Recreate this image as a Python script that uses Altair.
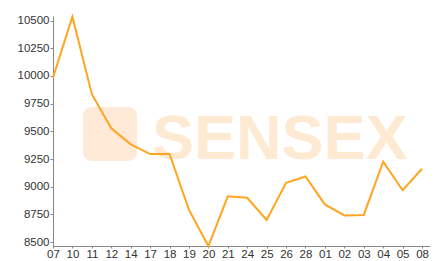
import altair as alt
import pandas as pd

dates = ["07", "10", "11", "12", "14", "17", "18", "19", "20", "21",
         "24", "25", "26", "28", "01", "02", "03", "04", "05", "08"]
values = [9985, 10536, 9836, 9528, 9382, 9295, 9295, 8790, 8464, 8913,
          8900, 8700, 9035, 9092, 8840, 8740, 8745, 9226, 8968, 9162]
y_ticks = [8500, 8750, 9000, 9250, 9500, 9750, 10000, 10250, 10500]

df = pd.DataFrame({"idx": list(range(len(dates))), "date": dates, "value": values})

label_expr = "[" + ",".join("'%s'" % d for d in dates) + "][datum.value]"

one = pd.DataFrame({"k": [0]})

logo_box = alt.Chart(one).mark_rect(color="#feead6", cornerRadius=9).encode(
    x=alt.value(30), x2=alt.value(84), y=alt.value(91), y2=alt.value(145)
)
logo_text = alt.Chart(one).mark_text(
    text="SENSEX", font="Liberation Sans", fontWeight="bold", fontSize=63,
    color="#feead3", align="left", baseline="alphabetic"
).encode(x=alt.value(99), y=alt.value(143))

line = alt.Chart(df).mark_line(color="#ffa51f", strokeWidth=2).encode(
    x=alt.X("idx:Q",
            scale=alt.Scale(domain=[0, 19.41], nice=False, zero=False),
            axis=alt.Axis(title=None, values=list(range(len(dates))),
                          labelExpr=label_expr, grid=False,
                          labelFont="Liberation Sans", labelFontSize=11.5,
                          labelColor="#333", domainColor="#888",
                          tickColor="#888", tickSize=2, labelPadding=0,
                          labelFlush=False, labelOverlap=False)),
    y=alt.Y("value:Q",
            scale=alt.Scale(domain=[8464, 10542], nice=False, zero=False),
            axis=alt.Axis(title=None, values=y_ticks, grid=False, format="d",
                          labelFont="Liberation Sans", labelFontSize=11.5,
                          labelColor="#333", domainColor="#888",
                          tickColor="#888", tickSize=3, labelPadding=1,
                          labelFlush=False, labelOverlap=False)),
)

chart = alt.layer(logo_box, logo_text, line).properties(
    width=377, height=230,
    autosize=alt.AutoSizeParams(type="none"),
    padding={"left": 45, "top": 8, "right": 3, "bottom": 14},
).configure_view(stroke=None)

chart.save("out.html", embed_options={"renderer": "svg", "actions": False})
